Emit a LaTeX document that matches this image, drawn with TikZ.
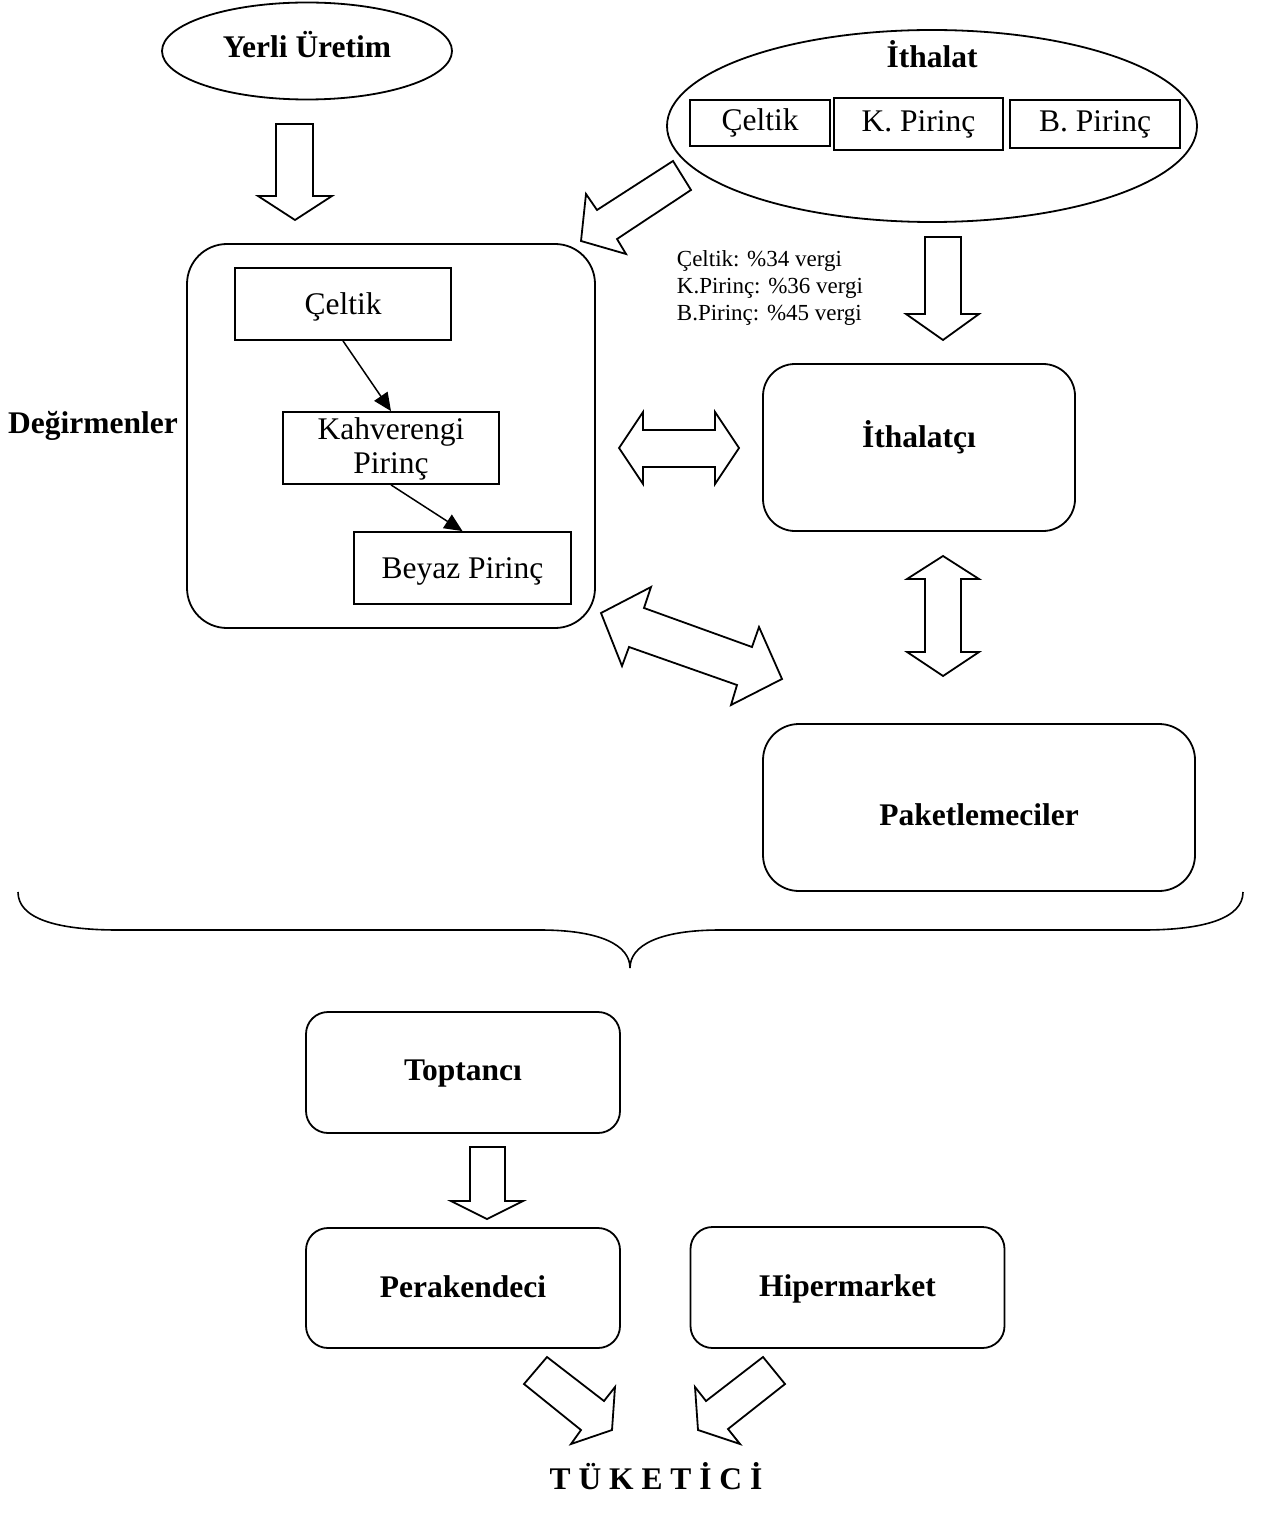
\documentclass[tikz,border=0pt]{standalone}
\usepackage{fontspec}
\setmainfont{Liberation Serif}
\usetikzlibrary{shapes.geometric,arrows.meta}
\newcommand{\shiftv}[2]{\raisebox{#1}[\height][\depth]{#2}}
\begin{document}
\begin{tikzpicture}[x=0.5pt,y=-0.5pt,line width=0.9pt,
  big/.style={font=\fontsize{15.75}{17}\selectfont},
  bigb/.style={font=\fontsize{15.75}{17}\selectfont\bfseries},
  small/.style={font=\fontsize{11.5}{13.5}\selectfont},
  rbox/.style={draw,rounded corners=#1,inner sep=0pt},
  rbox/.default=11pt,
  sbox/.style={draw,rectangle,inner sep=0pt},
  oval/.style={draw,ellipse,inner sep=0pt},
  blk/.style={draw,fill=white,line width=0.9pt,line join=miter},
  thin/.style={line width=0.75pt,-{Triangle[length=9pt,width=8pt]}}]
\useasboundingbox (0,0) rectangle (1261,1524);

% top sources
\node[oval,bigb,minimum width=145pt,minimum height=48.5pt] (yerli) at (307,51) {\shiftv{3pt}{Yerli Üretim}};
\node[oval,minimum width=265pt,minimum height=96pt] (ith) at (932,126) {};
\node[bigb] (ithlabel) at (932,54) {İthalat};
\node[sbox,big,minimum width=70pt,minimum height=23pt] (ic) at (760,123) {Çeltik};
\node[sbox,big,minimum width=84.5pt,minimum height=26pt] (ik) at (918.5,124) {K. Pirinç};
\node[sbox,big,minimum width=85pt,minimum height=24pt] (ib) at (1095,124) {B. Pirinç};
\node[small,anchor=west,align=left,inner sep=0pt] (tax) at (676,288) {Çeltik: \%34 vergi\\K.Pirinç: \%36 vergi\\B.Pirinç: \%45 vergi};

% mills
\node[rbox=20pt,minimum width=204pt,minimum height=192pt] (deg) at (391,436) {};
\node[bigb] (deglabel) at (93,426) {Değirmenler};
\node[sbox,big,minimum width=108pt,minimum height=36pt] (c1) at (343,304) {\shiftv{-1.5pt}{Çeltik}};
\node[sbox,big,minimum width=108pt,minimum height=36pt] (kp) at (391,448) {\shiftv{-1pt}{\begin{tabular}{@{}c@{}}Kahverengi\\Pirinç\end{tabular}}};
\node[sbox,big,minimum width=108.5pt,minimum height=36pt] (bp) at (462.5,568) {\shiftv{-1.5pt}{Beyaz Pirinç}};
\draw[thin] (c1.south) -- (kp.north);
\draw[thin] (kp.south) -- (bp.north);

% importer / packers
\node[rbox=16pt,bigb,minimum width=156pt,minimum height=83.5pt] (imp) at (919,447.5) {\shiftv{5.25pt}{İthalatçı}};
\node[rbox=18pt,bigb,minimum width=216pt,minimum height=83.5pt] (pak) at (979,807.5) {\shiftv{-3.5pt}{Paketlemeciler}};

% lower chain
\node[rbox,bigb,minimum width=157pt,minimum height=60.5pt] (top) at (463,1072.5) {\shiftv{-0.5pt}{Toptancı}};
\node[rbox,bigb,minimum width=157pt,minimum height=60pt] (per) at (463,1288) {\shiftv{0.5pt}{Perakendeci}};
\node[rbox,bigb,minimum width=157pt,minimum height=60.5pt] (hip) at (847.5,1287.5) {\shiftv{-0.5pt}{Hipermarket}};
\node[bigb] (tuk) at (656,1476) {T Ü K E T İ C İ};

% block arrows
\draw[blk] (276,124) -- (313,124) -- (313,196) -- (332,196) -- (295,220) -- (258,196) -- (276,196) -- cycle;
\draw[blk] (925,237) -- (961,237) -- (961,314) -- (979,314) -- (943,340) -- (906,314) -- (925,314) -- cycle;
\draw[blk] (470,1147) -- (505,1147) -- (505,1201) -- (523,1201) -- (487,1219) -- (451,1201) -- (470,1201) -- cycle;
\draw[blk] (673,161) -- (691,190) -- (617,239) -- (626,254) -- (581,241) -- (586,194) -- (597,210) -- cycle;
\draw[blk] (619,448) -- (643,412) -- (643,430) -- (715,430) -- (715,412) -- (739,448) -- (715,484) -- (715,467) -- (643,467) -- (643,484) -- cycle;
\draw[blk] (943,556) -- (979,579) -- (961,579) -- (961,652) -- (979,652) -- (943,676) -- (907,652) -- (925,652) -- (925,579) -- (907,579) -- cycle;
\draw[blk] (601,613) -- (651,587) -- (644,608) -- (752,647) -- (759,627) -- (782,679) -- (731,705) -- (737,685) -- (629,647) -- (622,666) -- cycle;
\draw[blk] (524,1384) -- (547,1357) -- (604,1401) -- (615,1387) -- (612,1430) -- (571,1444) -- (581,1430) -- cycle;
\draw[blk] (785,1384) -- (763,1357) -- (706,1401) -- (695,1387) -- (698,1430) -- (740,1444) -- (728,1429) -- cycle;

% brace
\draw[line width=0.8pt] (18,892) .. controls (18,918) and (55,930) .. (118,930) -- (540,930)
  .. controls (600,930) and (630,945) .. (630,968)
  .. controls (630,945) and (660,930) .. (720,930) -- (1143,930)
  .. controls (1205,930) and (1243,918) .. (1243,892);
\end{tikzpicture}
\end{document}
